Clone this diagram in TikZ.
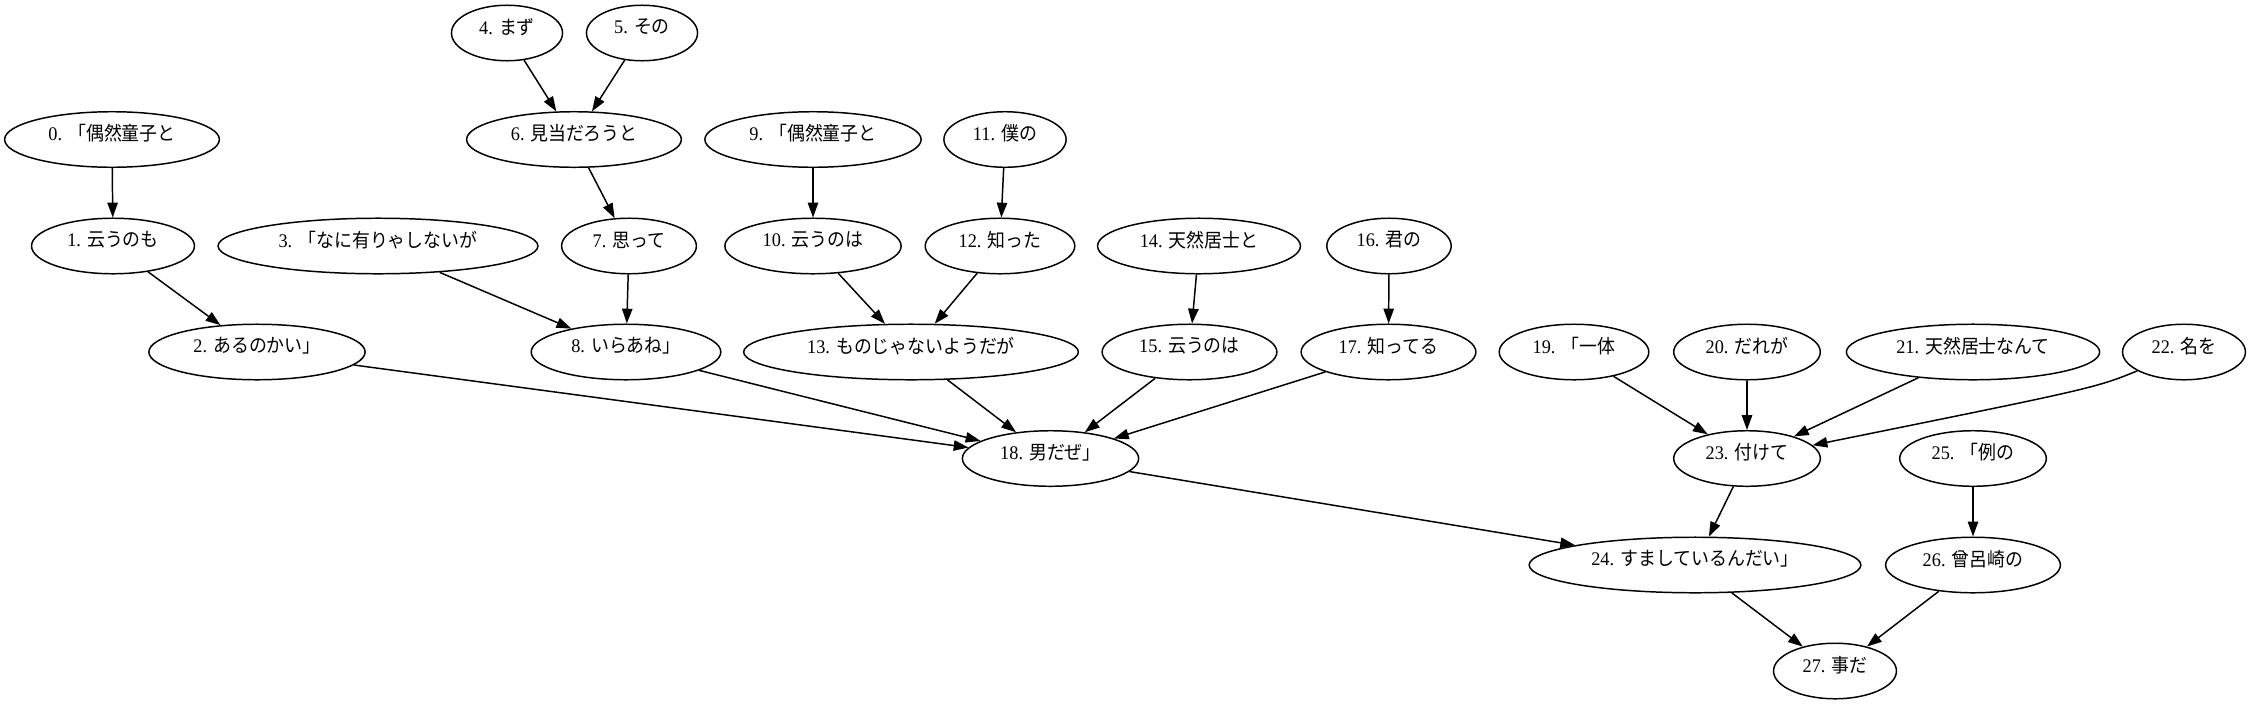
\documentclass[tikz,border=0pt]{standalone}
\usepackage{fontspec}
\setmainfont[FakeStretch=0.95]{Liberation Serif}
\newfontfamily\cjk[FakeStretch=0.93]{Noto Sans CJK JP}
\usetikzlibrary{arrows.meta,shapes.geometric}
\newcommand{\lbl}[2]{\raisebox{4pt}[\height][\depth]{#1. {\cjk #2}}}
\begin{document}
\begin{tikzpicture}[x=0.6752pt,y=-0.6752pt,
  nd/.style={ellipse,draw,line width=1pt,inner sep=0pt,minimum height=37.5pt,font=\fontsize{13pt}{15pt}\selectfont},
  ed/.style={line width=1pt,-{Triangle[length=10pt,width=7pt]}}]
\useasboundingbox (0,0) rectangle (2251,705);
\def\ra{33}\def\rb{139.5}\def\rc{246}\def\rd{352}\def\re{458.5}\def\rf{565}\def\rg{671}
\node[nd,minimum width=145pt] (n0) at (112,\rb) {\lbl{0}{「偶然童子と}};
\node[nd,minimum width=110pt] (n1) at (113,\rc) {\lbl{1}{云うのも}};
\node[nd,minimum width=146pt] (n2) at (257,\rd) {\lbl{2}{あるのかい」}};
\node[nd,minimum width=216pt] (n3) at (378,\rc) {\lbl{3}{「なに有りゃしないが}};
\node[nd,minimum width=75pt] (n4) at (507,\ra) {\lbl{4}{まず}};
\node[nd,minimum width=75pt] (n5) at (642,\ra) {\lbl{5}{その}};
\node[nd,minimum width=145pt] (n6) at (574,\rb) {\lbl{6}{見当だろうと}};
\node[nd,minimum width=91pt] (n7) at (629,\rc) {\lbl{7}{思って}};
\node[nd,minimum width=128pt] (n8) at (626,\rd) {\lbl{8}{いらあね」}};
\node[nd,minimum width=146pt] (n9) at (813,\rb) {\lbl{9}{「偶然童子と}};
\node[nd,minimum width=119pt] (n10) at (813,\rc) {\lbl{10}{云うのは}};
\node[nd,minimum width=82.5pt] (n11) at (1005,\rb) {\lbl{11}{僕の}};
\node[nd,minimum width=101pt] (n12) at (1000,\rc) {\lbl{12}{知った}};
\node[nd,minimum width=226pt] (n13) at (911,\rd) {\lbl{13}{ものじゃないようだが}};
\node[nd,minimum width=137pt] (n14) at (1199,\rc) {\lbl{14}{天然居士と}};
\node[nd,minimum width=118pt] (n15) at (1189.5,\rd) {\lbl{15}{云うのは}};
\node[nd,minimum width=84pt] (n16) at (1389,\rc) {\lbl{16}{君の}};
\node[nd,minimum width=118pt] (n17) at (1388.5,\rd) {\lbl{17}{知ってる}};
\node[nd,minimum width=119pt] (n18) at (1050.5,\re) {\lbl{18}{男だぜ」}};
\node[nd,minimum width=101pt] (n19) at (1574,\rd) {\lbl{19}{「一体}};
\node[nd,minimum width=99pt] (n20) at (1747,\rd) {\lbl{20}{だれが}};
\node[nd,minimum width=171pt] (n21) at (1973,\rd) {\lbl{21}{天然居士なんて}};
\node[nd,minimum width=83pt] (n22) at (2184,\rd) {\lbl{22}{名を}};
\node[nd,minimum width=99pt] (n23) at (1747,\re) {\lbl{23}{付けて}};
\node[nd,minimum width=99pt] (n25) at (1973,\re) {\lbl{25}{「例の}};
\node[nd,minimum width=224pt] (n24) at (1695,\rf) {\lbl{24}{すましているんだい」}};
\node[nd,minimum width=118pt] (n26) at (1973,\rf) {\lbl{26}{曾呂崎の}};
\node[nd,minimum width=83pt] (n27) at (1835,\rg) {\lbl{27}{事だ}};
\draw[ed] (n0) -- (n1);
\draw[ed] (n1) -- (n2);
\draw[ed] (n3) -- (n8);
\draw[ed] (n4) -- (n6);
\draw[ed] (n5) -- (n6);
\draw[ed] (n6) -- (n7);
\draw[ed] (n7) -- (n8);
\draw[ed] (n9) -- (n10);
\draw[ed] (n11) -- (n12);
\draw[ed] (n10) -- (n13);
\draw[ed] (n12) -- (n13);
\draw[ed] (n14) -- (n15);
\draw[ed] (n16) -- (n17);
\draw[ed] (n2) -- (n18);
\draw[ed] (n8) -- (n18);
\draw[ed] (n13) -- (n18);
\draw[ed] (n15) -- (n18);
\draw[ed] (n17) -- (n18);
\draw[ed] (n19) -- (n23);
\draw[ed] (n20) -- (n23);
\draw[ed] (n21) -- (n23);
\draw[ed] (n22) .. controls (2095,388) .. (n23);
\draw[ed] (n18) -- (n24);
\draw[ed] (n23) -- (n24);
\draw[ed] (n25) -- (n26);
\draw[ed] (n24) -- (n27);
\draw[ed] (n26) -- (n27);
\end{tikzpicture}
\end{document}
